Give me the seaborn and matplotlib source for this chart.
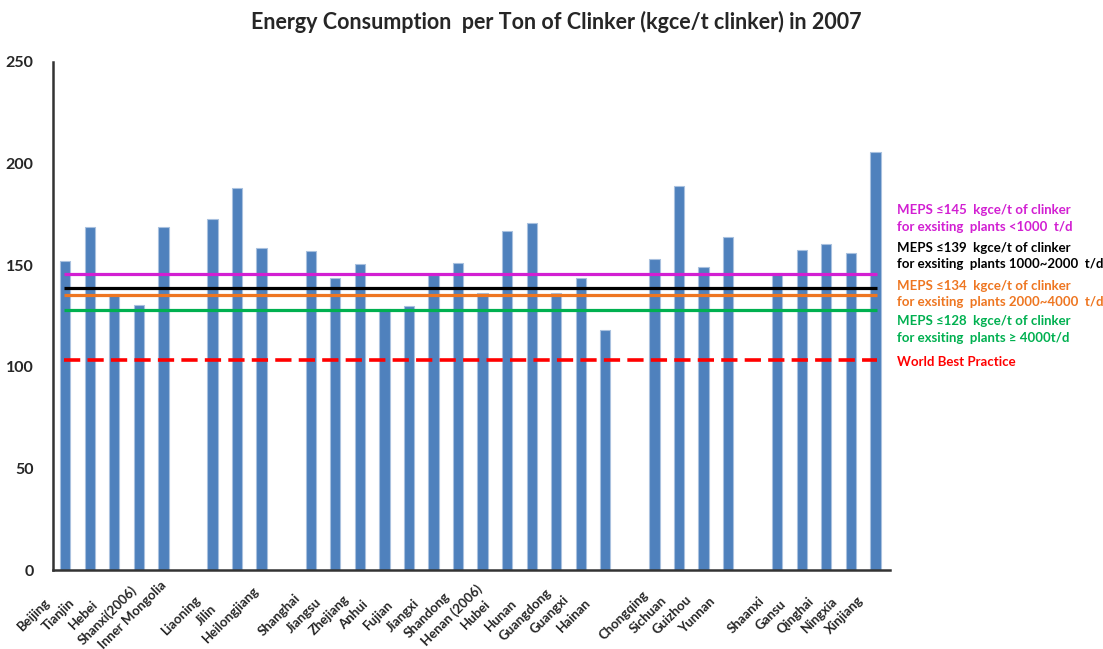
import matplotlib
matplotlib.use('Agg')
import matplotlib.pyplot as plt
import matplotlib.transforms as mtransforms
import seaborn as sns
import pandas as pd
import numpy as np

# Province values (gaps are empty separator slots)
provinces = ['Beijing', 'Tianjin', 'Hebei', 'Shanxi(2006)', 'Inner Mongolia', '_gap1',
             'Liaoning', 'Jilin', 'Heilongjiang', '_gap2',
             'Shanghai', 'Jiangsu', 'Zhejiang', 'Anhui', 'Fujian', 'Jiangxi', 'Shandong',
             'Henan (2006)', 'Hubei', 'Hunan', 'Guangdong', 'Guangxi', 'Hainan', '_gap3',
             'Chongqing', 'Sichuan', 'Guizhou', 'Yunnan', '_gap4',
             'Shaanxi', 'Gansu', 'Qinghai', 'Ningxia', 'Xinjiang']
consumption = [152.1, 169.0, 135.8, 130.3, 168.6, np.nan,
               172.7, 188.2, 158.6, np.nan,
               157.0, 143.8, 150.6, 128.4, 129.7, 145.3, 151.3,
               136.1, 166.7, 170.9, 136.1, 143.8, 118.1, np.nan,
               152.9, 189.1, 149.2, 164.1, np.nan,
               146.4, 157.7, 160.6, 156.0, 205.7]

# Reference lines (position on chart) and their labels
ref_values = [145.5, 138.7, 135.3, 127.8]
ref_colors = ['#D21FD2', '#000000', '#EE7621', '#00B050']
ref_labels = ['MEPS \u2264145  kgce/t of clinker\nfor exsiting  plants <1000  t/d',
              'MEPS \u2264139  kgce/t of clinker\nfor exsiting  plants 1000~2000  t/d',
              'MEPS \u2264134  kgce/t of clinker\nfor exsiting  plants 2000~4000  t/d',
              'MEPS \u2264128  kgce/t of clinker\nfor exsiting  plants \u2265 4000t/d']
best_value = 103.4
best_label = 'World Best Practice'

df = pd.DataFrame({'province': provinces, 'value': consumption})

sns.set_style('white')
plt.rcParams['font.family'] = ['Lato', 'DejaVu Sans']

fig = plt.figure(figsize=(11.03, 6.49), dpi=100)
ax = fig.add_axes([0.048, 0.1217, 0.759, 0.7828])

sns.barplot(data=df, x='province', y='value', order=provinces, color='#4F81BD',
            saturation=1, width=0.42, edgecolor='#A9C1DF', linewidth=0.8, ax=ax)

x0, x1 = -0.05, len(provinces) - 0.95
for v, c in zip(ref_values, ref_colors):
    ax.plot([x0, x1], [v, v], color=c, lw=2.3, solid_capstyle='butt', zorder=3)
ax.plot([x0, x1], [best_value, best_value], color='#FF0000', lw=2.6,
        dashes=(4.5, 2), zorder=3)

ax.set_xlim(-0.5, len(provinces) - 0.4)
ax.set_ylim(0, 250)
ax.set_yticks(range(0, 251, 50))
ax.set_xlabel('')
ax.set_ylabel('')
ax.tick_params(axis='y', length=0, pad=14, labelsize=11.5)
ax.tick_params(axis='x', length=0, pad=0, labelsize=9.5)
for lab in ax.get_yticklabels():
    lab.set_fontweight('bold')

ax.set_xticks(range(len(provinces)))
ax.set_xticklabels(['' if p.startswith('_gap') else p for p in provinces])
offset = mtransforms.ScaledTranslation(-31 / 100, -45 / 100, fig.dpi_scale_trans)
for lab in ax.get_xticklabels():
    lab.set_rotation(45)
    lab.set_rotation_mode('anchor')
    lab.set_ha('center')
    lab.set_va('center')
    lab.set_fontweight('bold')
    lab.set_transform(lab.get_transform() + offset)

sns.despine(ax=ax)
for side in ['left', 'bottom']:
    ax.spines[side].set_color('#333333')
    ax.spines[side].set_linewidth(1.8)

# right-side annotations
ann_y = [204, 242, 280, 315]
for lbl, c, yy in zip(ref_labels, ref_colors, ann_y):
    fig.text(897 / 1103, 1 - yy / 649, lbl, color=c, fontsize=9.5, fontweight='bold',
             va='top', ha='left', linespacing=1.45)
fig.text(897 / 1103, 1 - 362 / 649, best_label, color='#FF0000', fontsize=9.5,
         fontweight='bold', va='center', ha='left')

fig.text(556 / 1103, 1 - 22 / 649,
         'Energy Consumption  per Ton of Clinker (kgce/t clinker) in 2007',
         ha='center', va='center', fontsize=15.5, fontweight='bold')

plt.savefig('out.png', dpi=100)
